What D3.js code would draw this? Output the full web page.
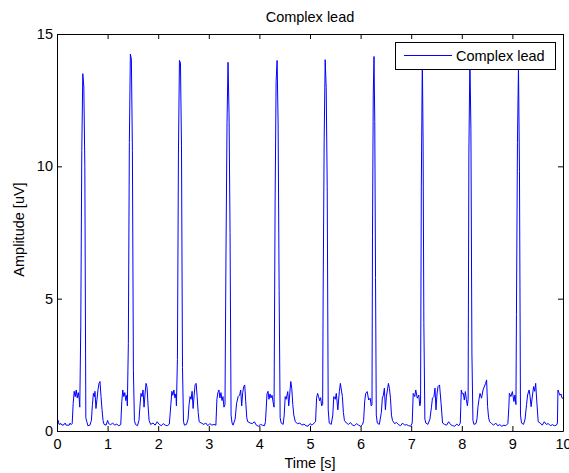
<!DOCTYPE html>
<html>
<head>
<meta charset="utf-8">
<script src="https://cdn.jsdelivr.net/npm/d3@7"></script>
<style>
html,body{margin:0;padding:0;background:#fff;}
svg{display:block;}
text{font-family:"Liberation Sans",Arial,sans-serif;fill:#000;}
</style>
</head>
<body>
<svg id="chart" width="569" height="473"></svg>
<script>
const chartTitle = "Complex lead";
const seriesName = "Complex lead";
const xLabel = "Time [s]";
const yLabel = "Amplitude [uV]";
const xTicks = [0,1,2,3,4,5,6,7,8,9,10];
const yTicks = [0,5,10,15];

const timeS = [
0.00,0.02,0.04,0.08,0.10,0.14,0.16,0.18,0.24,0.26,0.28,0.30,
0.32,0.34,0.36,0.38,0.40,0.42,0.44,0.45,0.47,0.49,0.51,0.53,0.55,0.57,0.59,0.61,0.65,
0.68,0.70,0.72,0.74,0.75,0.77,0.79,0.81,0.83,0.85,0.87,0.89,0.91,0.93,0.97,
1.00,1.02,1.06,1.10,1.14,1.18,1.22,1.26,
1.28,1.30,1.32,1.34,1.36,1.38,1.39,1.41,1.43,1.45,1.47,1.49,1.51,1.53,1.55,1.59,
1.62,1.64,1.66,1.68,1.70,1.72,1.74,1.76,1.78,1.80,1.82,1.85,
1.90,1.94,1.98,2.02,2.06,2.10,2.14,2.18,2.22,
2.25,2.27,2.29,2.31,2.33,2.35,2.36,2.38,2.40,2.42,2.44,2.46,2.48,2.50,2.52,2.56,
2.59,2.61,2.63,2.65,2.67,2.69,2.71,2.73,2.75,2.77,2.79,2.81,
2.85,2.90,2.94,2.98,3.02,3.06,3.10,3.14,
3.16,3.18,3.20,3.22,3.24,3.26,3.28,3.30,3.32,3.34,3.36,3.38,3.40,3.42,3.44,3.46,3.48,
3.52,3.55,3.58,3.61,3.63,3.65,3.67,3.69,3.71,3.73,3.75,3.77,
3.82,3.86,3.90,3.94,3.98,4.02,4.06,4.10,4.12,
4.15,4.17,4.19,4.21,4.23,4.25,4.27,4.29,4.31,4.33,4.35,4.37,4.39,4.41,4.43,4.47,
4.49,4.51,4.53,4.56,4.58,4.60,4.62,4.64,4.66,4.68,4.71,
4.75,4.80,4.84,4.88,4.92,4.96,5.00,5.04,5.08,5.11,
5.13,5.15,5.17,5.19,5.21,5.23,5.25,5.26,5.28,5.30,5.32,5.34,5.36,5.38,5.42,
5.45,5.47,5.50,5.52,5.55,5.58,5.60,5.62,5.64,5.66,5.68,
5.72,5.76,5.80,5.84,5.88,5.92,5.96,6.00,6.04,6.06,
6.08,6.10,6.13,6.16,6.19,6.21,6.225,6.235,6.25,6.265,6.28,6.295,6.31,6.33,6.37,
6.41,6.43,6.45,6.47,6.49,6.51,6.53,6.55,6.57,6.59,6.61,6.63,
6.67,6.71,6.75,6.79,6.83,6.87,6.91,6.95,6.99,7.02,
7.04,7.07,7.09,7.12,7.15,7.17,7.185,7.20,7.22,7.235,7.25,7.27,7.29,7.33,
7.37,7.40,7.42,7.45,7.47,7.49,7.51,7.53,7.56,7.59,7.62,
7.66,7.70,7.74,7.78,7.82,7.86,7.90,7.94,7.97,
7.98,7.99,8.01,8.03,8.05,8.07,8.09,8.11,8.125,8.14,8.16,8.18,8.20,8.22,8.24,8.28,
8.30,8.32,8.34,8.36,8.39,8.42,8.45,8.47,8.49,8.51,8.53,8.55,
8.59,8.63,8.67,8.71,8.75,8.79,8.83,8.87,8.91,8.93,
8.94,8.97,9.00,9.03,9.05,9.07,9.08,9.10,9.12,9.14,9.16,9.18,9.22,
9.25,9.28,9.30,9.33,9.35,9.37,9.40,9.42,9.44,9.46,9.48,9.51,
9.55,9.59,9.63,9.67,9.71,9.75,9.79,9.83,9.87,9.89,
9.90,9.92,9.94,9.96,9.98,10.00
];

const amplitudeUV = [
0.40,0.42,0.25,0.28,0.22,0.24,0.30,0.22,0.22,0.30,0.24,0.28,
1.05,1.50,1.30,1.55,1.25,1.45,1.20,0.90,4.00,10.60,13.50,13.00,10.00,0.50,0.35,0.20,0.22,
0.40,1.00,1.42,1.30,1.50,0.85,1.20,1.55,1.80,1.87,1.30,0.80,0.40,0.25,0.22,
0.40,0.28,0.24,0.30,0.22,0.26,0.20,0.24,
1.10,1.55,1.30,1.45,1.15,1.35,0.95,3.30,10.90,14.24,14.05,10.60,2.30,0.40,0.25,0.20,
0.40,0.95,1.42,1.30,1.55,0.90,1.40,1.80,1.65,0.95,0.40,0.25,
0.30,0.22,0.35,0.25,0.20,0.28,0.22,0.20,0.26,
1.00,1.50,1.35,1.55,1.25,1.40,0.95,2.70,10.50,14.00,13.90,10.80,2.40,0.35,0.22,0.25,
0.45,1.00,1.30,1.20,1.50,0.85,1.35,1.75,1.80,1.30,0.70,0.35,
0.30,0.25,0.30,0.20,0.28,0.22,0.25,0.22,
1.20,1.45,1.55,1.25,1.45,1.15,1.30,0.90,1.00,6.80,11.65,13.93,12.00,7.50,0.60,0.30,0.22,
0.45,1.05,1.30,1.36,1.55,0.95,1.45,1.68,1.74,1.10,0.50,0.35,
0.30,0.28,0.35,0.22,0.18,0.25,0.22,0.20,0.35,
1.40,1.50,1.20,1.40,1.25,1.35,1.10,0.90,8.50,13.20,14.00,11.60,5.30,0.50,0.30,0.25,
0.60,1.30,1.20,1.49,0.95,1.40,1.87,1.60,1.00,0.60,0.35,
0.28,0.30,0.22,0.26,0.20,0.18,0.28,0.22,0.30,0.35,
1.24,1.42,1.30,1.14,1.26,0.95,1.00,5.15,10.96,14.03,12.98,9.25,0.80,0.30,0.25,
0.60,1.30,1.20,1.42,0.80,1.50,1.80,1.55,1.30,0.70,0.40,
0.30,0.25,0.32,0.22,0.20,0.28,0.22,0.18,0.25,0.40,
1.10,1.42,1.49,1.17,1.24,0.95,1.00,7.40,12.70,14.15,11.70,5.80,0.60,0.30,0.25,
0.70,1.24,1.35,1.62,0.80,1.30,1.55,1.80,1.60,1.24,0.60,0.40,
0.28,0.32,0.24,0.20,0.30,0.22,0.24,0.20,0.18,0.30,
1.42,1.30,1.55,1.24,1.36,0.95,1.05,9.25,14.10,10.96,4.10,0.45,0.30,0.25,
0.45,0.90,1.24,1.30,1.62,0.80,1.40,1.68,1.74,1.05,0.30,
0.25,0.22,0.35,0.24,0.20,0.18,0.26,0.20,0.30,
0.92,1.55,1.40,1.42,1.17,1.49,1.20,0.95,1.20,10.50,14.10,11.40,2.95,0.40,0.25,0.28,
0.45,0.92,1.20,1.42,1.24,1.55,1.70,1.80,1.93,0.92,0.50,0.35,
0.28,0.22,0.30,0.20,0.24,0.18,0.22,0.20,0.28,0.90,
1.42,1.30,1.49,1.11,1.36,1.00,4.40,10.90,13.80,9.80,0.60,0.30,0.25,
0.45,1.00,1.36,1.55,1.30,0.92,1.40,1.68,1.50,1.80,1.17,0.35,
0.30,0.22,0.35,0.25,0.28,0.20,0.24,0.20,0.22,0.30,
1.55,1.45,1.35,1.40,1.25,1.23
];

const data = timeS.map((t,i)=>({t, v: amplitudeUV[i]}));

const svg = d3.select("#chart");
const m = {left:57, right:563, top:34, bottom:431};
const x = d3.scaleLinear().domain([0,10]).range([m.left, m.right]);
const y = d3.scaleLinear().domain([0,15]).range([m.bottom, m.top]);
const FS = "14.5px";

svg.append("rect").attr("x",m.left).attr("y",m.top)
  .attr("width",m.right-m.left).attr("height",m.bottom-m.top).attr("fill","#fff");

svg.append("clipPath").attr("id","clip").append("rect")
  .attr("x",m.left).attr("y",m.top).attr("width",m.right-m.left).attr("height",m.bottom-m.top);

const line = d3.line().x(d=>x(d.t)).y(d=>y(d.v));
svg.append("path").datum(data).attr("d",line)
  .attr("fill","none").attr("stroke","#0000ff").attr("stroke-width",1)
  .attr("clip-path","url(#clip)");

const tk = 5;
const bottomAx = svg.append("g").attr("transform",`translate(0,${m.bottom})`)
  .call(d3.axisBottom(x).tickValues(xTicks).tickSize(-tk).tickSizeOuter(0).tickPadding(8).tickFormat(d3.format("d")));
const topAx = svg.append("g").attr("transform",`translate(0,${m.top})`)
  .call(d3.axisTop(x).tickValues(xTicks).tickSize(-tk).tickSizeOuter(0).tickFormat(""));
const leftAx = svg.append("g").attr("transform",`translate(${m.left},0)`)
  .call(d3.axisLeft(y).tickValues(yTicks).tickSize(-tk).tickSizeOuter(0).tickPadding(4).tickFormat(d3.format("d")));
const rightAx = svg.append("g").attr("transform",`translate(${m.right},0)`)
  .call(d3.axisRight(y).tickValues(yTicks).tickSize(-tk).tickSizeOuter(0).tickFormat(""));
[bottomAx,topAx,leftAx,rightAx].forEach(g=>{
  g.selectAll("path.domain").attr("stroke","#000").attr("stroke-width",1);
  g.selectAll(".tick line").attr("stroke","#000");
  g.selectAll(".tick text").attr("font-family","Liberation Sans, Arial, sans-serif")
    .attr("font-size",FS).attr("fill","#000");
});

svg.append("text").attr("x",(m.left+m.right)/2).attr("y",22)
  .attr("text-anchor","middle").attr("font-size",FS).text(chartTitle);
svg.append("text").attr("x",(m.left+m.right)/2).attr("y",468)
  .attr("text-anchor","middle").attr("font-size",FS).text(xLabel);
svg.append("text").attr("transform",`translate(24,${(m.top+m.bottom)/2 - 3}) rotate(-90)`)
  .attr("text-anchor","middle").attr("font-size",FS).text(yLabel);

const lg = svg.append("g");
lg.append("rect").attr("x",395.5).attr("y",42.5).attr("width",160).attr("height",27)
  .attr("fill","#fff").attr("stroke","#000").attr("stroke-width",1);
lg.append("line").attr("x1",404).attr("x2",452).attr("y1",55.5).attr("y2",55.5)
  .attr("stroke","#0000ff").attr("stroke-width",1);
lg.append("text").attr("x",456).attr("y",61).attr("font-size",FS).text(seriesName);
</script>
</body>
</html>
